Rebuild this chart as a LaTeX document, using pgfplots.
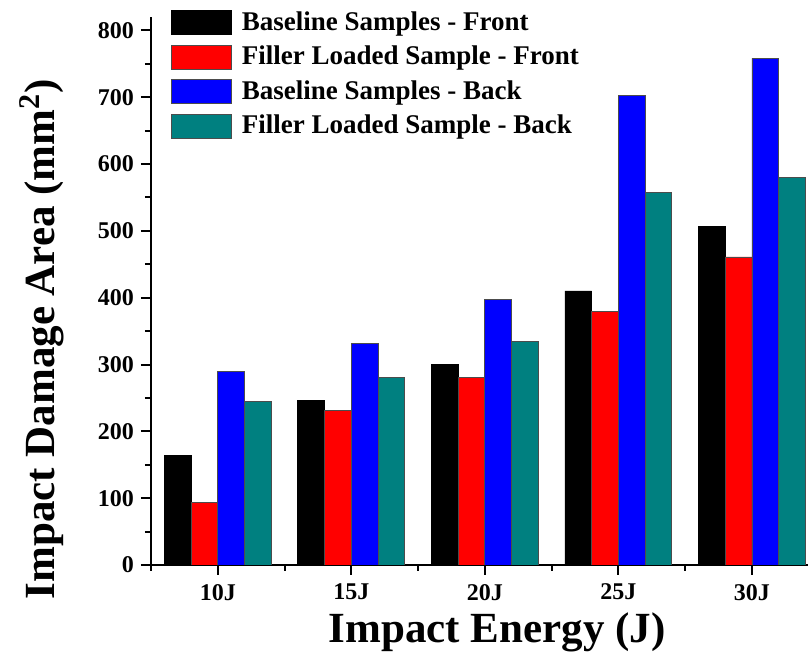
\documentclass[border=0pt]{standalone}
\usepackage{pgfplots}
\pgfplotsset{compat=1.18}
\usepackage{fontspec}
\setmainfont{Liberation Serif}
\definecolor{tealbar}{RGB}{0,128,128}
\begin{document}
\begin{tikzpicture}
\path[use as bounding box] (-75.5pt,-48.5pt) rectangle (330pt,282.5pt);
\begin{axis}[
    at={(0,0)}, anchor=south west,
    scale only axis,
    width=328.5pt, height=274pt,
    xmin=-0.5, xmax=4.42,
    ymin=0, ymax=820,
    axis x line*=bottom,
    axis y line*=left,
    axis line style={line width=1pt},
    tick align=outside,
    major tick length=5pt,
    minor tick length=3pt,
    every tick/.style={black, line width=1pt},
    xtick={0,1,2,3,4},
    xticklabels={10J,15J,20J,25J,30J},
    minor xtick={-0.5,0.5,1.5,2.5,3.5},
    ytick={0,100,...,800},
    minor ytick={50,150,...,750},
    /pgf/number format/assume math mode=true,
    ticklabel style={font=\fontsize{12}{14}\selectfont\bfseries},
    xticklabel style={yshift=-1pt},
    xlabel={Impact Energy (J)},
    ylabel={Impact Damage Area (mm\textsuperscript{2})},
    label style={font=\fontsize{21.5}{24}\selectfont\bfseries},
    xlabel style={at={([yshift=-33.5pt]axis description cs:0.527,0)}, anchor=center},
    ylabel style={at={([xshift=-54.5pt]axis description cs:0,0.412)}, anchor=center},
    ybar,
    bar width=0.2,
    legend style={at={(axis description cs:0.030,1.018)}, anchor=north west,
        draw=none, fill=none, inner sep=0pt,
        font=\fontsize{13.5}{15}\selectfont\bfseries,
        row sep=2.4pt},
    legend cell align=left,
    legend image code/.code={\draw[#1] (0pt,-6pt) rectangle (30pt,6pt); \path (33pt,0pt);},
]
\addplot[fill=black, draw=black, line width=0.4pt, bar shift=-0.3] coordinates {
    (0,164) (1,246) (2,300) (3,410) (4,507)
};
\addplot[fill=red, draw=black!70, line width=0.4pt, bar shift=-0.1] coordinates {
    (0,94) (1,231) (2,281) (3,380) (4,461)
};
\addplot[fill=blue, draw=black!70, line width=0.4pt, bar shift=0.1] coordinates {
    (0,290) (1,331) (2,397) (3,702) (4,758)
};
\addplot[fill=tealbar, draw=black!70, line width=0.4pt, bar shift=0.3] coordinates {
    (0,245) (1,280) (2,334) (3,557) (4,580)
};
\legend{Baseline Samples - Front, Filler Loaded Sample - Front, Baseline Samples - Back, Filler Loaded Sample - Back}
\end{axis}
\end{tikzpicture}
\end{document}
